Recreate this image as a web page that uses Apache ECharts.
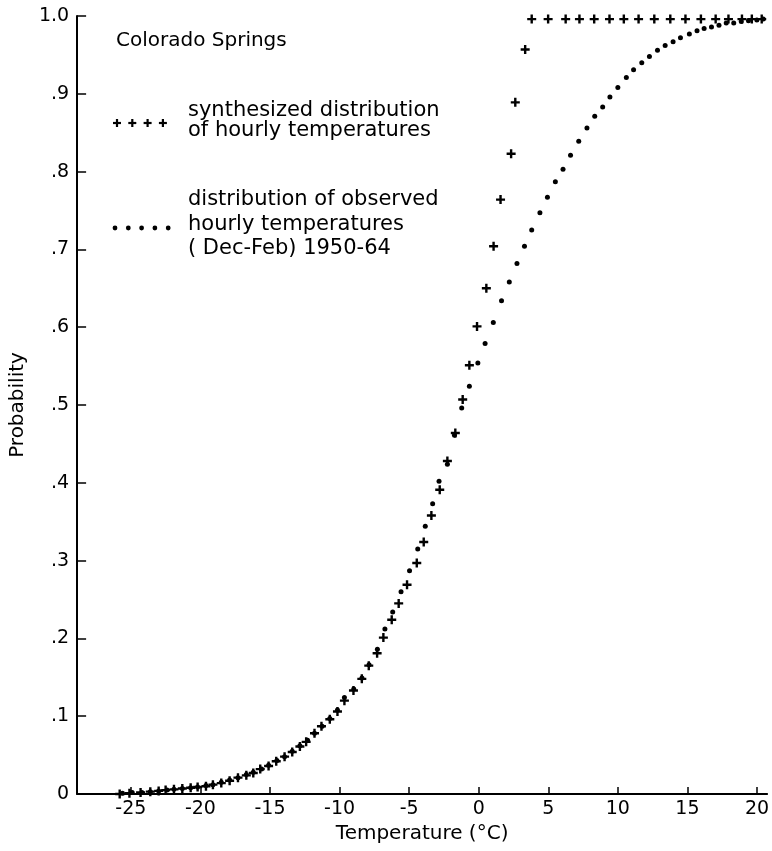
<!DOCTYPE html>
<html>
<head>
<meta charset="utf-8">
<script src="https://cdn.jsdelivr.net/npm/echarts@6/dist/echarts.min.js"></script>
<style>html,body{margin:0;padding:0;background:#fff}#c{width:772px;height:851px}</style>
</head>
<body>
<div id="c"></div>
<script>
// Synthesized distribution of hourly temperatures (plus markers)
var tempSynth = [-25.8,-25.1,-24.3,-23.6,-23.0,-22.5,-21.9,-21.3,-20.7,-20.2,-19.6,-19.1,-18.5,-17.9,-17.3,-16.7,-16.2,-15.7,-15.1,-14.55,-13.95,-13.4,-12.85,-12.4,-11.8,-11.3,-10.7,-10.15,-9.65,-9.0,-8.4,-7.9,-7.3,-6.85,-6.25,-5.75,-5.15,-4.45,-3.95,-3.4,-2.8,-2.25,-1.68,-1.15,-0.67,-0.12,0.55,1.07,1.57,2.33,2.63,3.34,3.81,4.99,6.25,7.24,8.3,9.4,10.43,11.49,12.62,13.77,14.86,15.97,17.03,17.95,18.92,19.63,20.34];
var probSynth = [0.000,0.001,0.002,0.003,0.004,0.005,0.006,0.007,0.008,0.009,0.010,0.012,0.014,0.017,0.021,0.024,0.027,0.032,0.036,0.042,0.048,0.054,0.061,0.067,0.078,0.087,0.096,0.106,0.120,0.133,0.148,0.165,0.181,0.201,0.224,0.245,0.269,0.297,0.324,0.358,0.391,0.428,0.464,0.507,0.551,0.601,0.650,0.704,0.764,0.823,0.889,0.957,0.996,0.996,0.996,0.996,0.996,0.996,0.996,0.996,0.996,0.996,0.996,0.996,0.996,0.996,0.996,0.996,0.996];
// Observed hourly temperatures (Dec-Feb) 1950-64 (dot markers)
var tempObs = [-25.6,-24.9,-24.2,-23.6,-23.0,-22.4,-21.9,-21.3,-20.7,-20.2,-19.6,-19.1,-18.5,-17.9,-17.3,-16.7,-16.2,-15.6,-15.1,-14.5,-13.95,-13.4,-12.85,-12.3,-11.8,-11.25,-10.7,-10.15,-9.65,-8.98,-8.39,-7.88,-7.28,-6.74,-6.18,-5.58,-4.97,-4.38,-3.84,-3.31,-2.85,-2.25,-1.74,-1.22,-0.67,-0.06,0.46,1.05,1.64,2.2,2.75,3.29,3.81,4.4,4.94,5.51,6.06,6.6,7.19,7.78,8.34,8.91,9.43,10.0,10.61,11.13,11.72,12.27,12.85,13.4,13.97,14.5,15.14,15.69,16.2,16.73,17.27,17.79,18.33,18.87,19.39,19.99,20.45];
var probObs = [0.001,0.002,0.002,0.003,0.004,0.005,0.006,0.007,0.008,0.009,0.011,0.012,0.015,0.018,0.021,0.025,0.028,0.032,0.037,0.043,0.048,0.055,0.062,0.069,0.078,0.087,0.097,0.108,0.124,0.135,0.149,0.166,0.186,0.212,0.234,0.260,0.287,0.315,0.344,0.373,0.402,0.424,0.461,0.496,0.524,0.554,0.579,0.606,0.634,0.658,0.682,0.704,0.725,0.747,0.767,0.787,0.803,0.821,0.839,0.856,0.871,0.883,0.896,0.908,0.921,0.931,0.940,0.948,0.956,0.962,0.967,0.972,0.977,0.981,0.984,0.986,0.988,0.991,0.991,0.993,0.994,0.995,0.996];
var xTicks = [-25,-20,-15,-10,-5,0,5,10,15,20];
var xTickLabels = ['-25','-20','-15','-10','-5','0','5','10','15','20'];
var yTickLabels = ['0','.1','.2','.3','.4','.5','.6','.7','.8','.9','1.0'];
var legendSynth = ['synthesized distribution','of hourly temperatures'];
var legendObs = ['distribution of observed','hourly temperatures','( Dec-Feb) 1950-64'];
var titleText = 'Colorado Springs';

var FONT = 'DejaVu Sans';
var PLUS = 'path://M3.3,0H5.7V3.3H9V5.7H5.7V9H3.3V5.7H0V3.3H3.3Z';

function zip(a,b){var r=[];for(var i=0;i<a.length;i++)r.push([a[i],b[i]]);return r;}

var graphics = [];
graphics.push({type:'text',left:116,top:31,style:{text:titleText,font:'20px "'+FONT+'"',fill:'#000'}});
legendSynth.forEach(function(t,i){
  graphics.push({type:'text',left:188,top:[100,120][i],style:{text:t,font:'21px "'+FONT+'"',fill:'#000'}});
});
legendObs.forEach(function(t,i){
  graphics.push({type:'text',left:188,top:[189,214,238][i],style:{text:t,font:'21px "'+FONT+'"',fill:'#000'}});
});
for (var k=0;k<4;k++){
  var cx = 117 + k*15.3, cy = 123;
  graphics.push({type:'rect',shape:{x:cx-4,y:cy-1.1,width:8,height:2.2},style:{fill:'#000'}});
  graphics.push({type:'rect',shape:{x:cx-1.1,y:cy-4,width:2.2,height:8},style:{fill:'#000'}});
}
for (var m=0;m<5;m++){
  graphics.push({type:'circle',shape:{cx:115+m*13.3,cy:228,r:2.4},style:{fill:'#000'}});
}

var chart = echarts.init(document.getElementById('c'), null, {renderer:'canvas'});
chart.setOption({
  backgroundColor:'#fff',
  animation:false,
  grid:{left:72,right:0,top:16,bottom:57,containLabel:false},
  xAxis:{
    type:'value',min:-28.86,max:20.73,
    name:'Temperature (°C)',nameLocation:'middle',nameGap:29,
    nameTextStyle:{fontFamily:FONT,fontSize:20,color:'#000'},
    axisLine:{show:true,onZero:false,lineStyle:{color:'#000',width:2}},
    axisTick:{show:true,inside:true,length:7,lineStyle:{color:'#000',width:1.5},customValues:xTicks},
    axisLabel:{show:true,margin:6,fontFamily:FONT,fontSize:19,color:'#000',customValues:xTicks,
      formatter:function(v){var i=xTicks.indexOf(Math.round(v));return i>=0?xTickLabels[i]:'';}},
    splitLine:{show:false}
  },
  yAxis:{
    type:'value',min:0,max:1,interval:0.1,
    name:'Probability',nameLocation:'middle',nameGap:36,nameRotate:90,
    nameTextStyle:{fontFamily:FONT,fontSize:20,color:'#000'},
    axisLine:{show:true,onZero:false,lineStyle:{color:'#000',width:2}},
    axisTick:{show:true,inside:true,length:9,lineStyle:{color:'#000',width:1.5}},
    axisLabel:{show:true,margin:8,fontFamily:FONT,fontSize:19,color:'#000',
      formatter:function(v){return yTickLabels[Math.round(v*10)];}},
    splitLine:{show:false}
  },
  graphic:graphics,
  series:[
    {type:'scatter',name:'observed',data:zip(tempObs,probObs),symbol:'circle',symbolSize:5,
     itemStyle:{color:'#000',opacity:1},z:2,silent:true},
    {type:'scatter',name:'synthesized',data:zip(tempSynth,probSynth),symbol:PLUS,symbolSize:9,
     itemStyle:{color:'#000',opacity:1},z:3,silent:true}
  ]
});
</script>
</body>
</html>
